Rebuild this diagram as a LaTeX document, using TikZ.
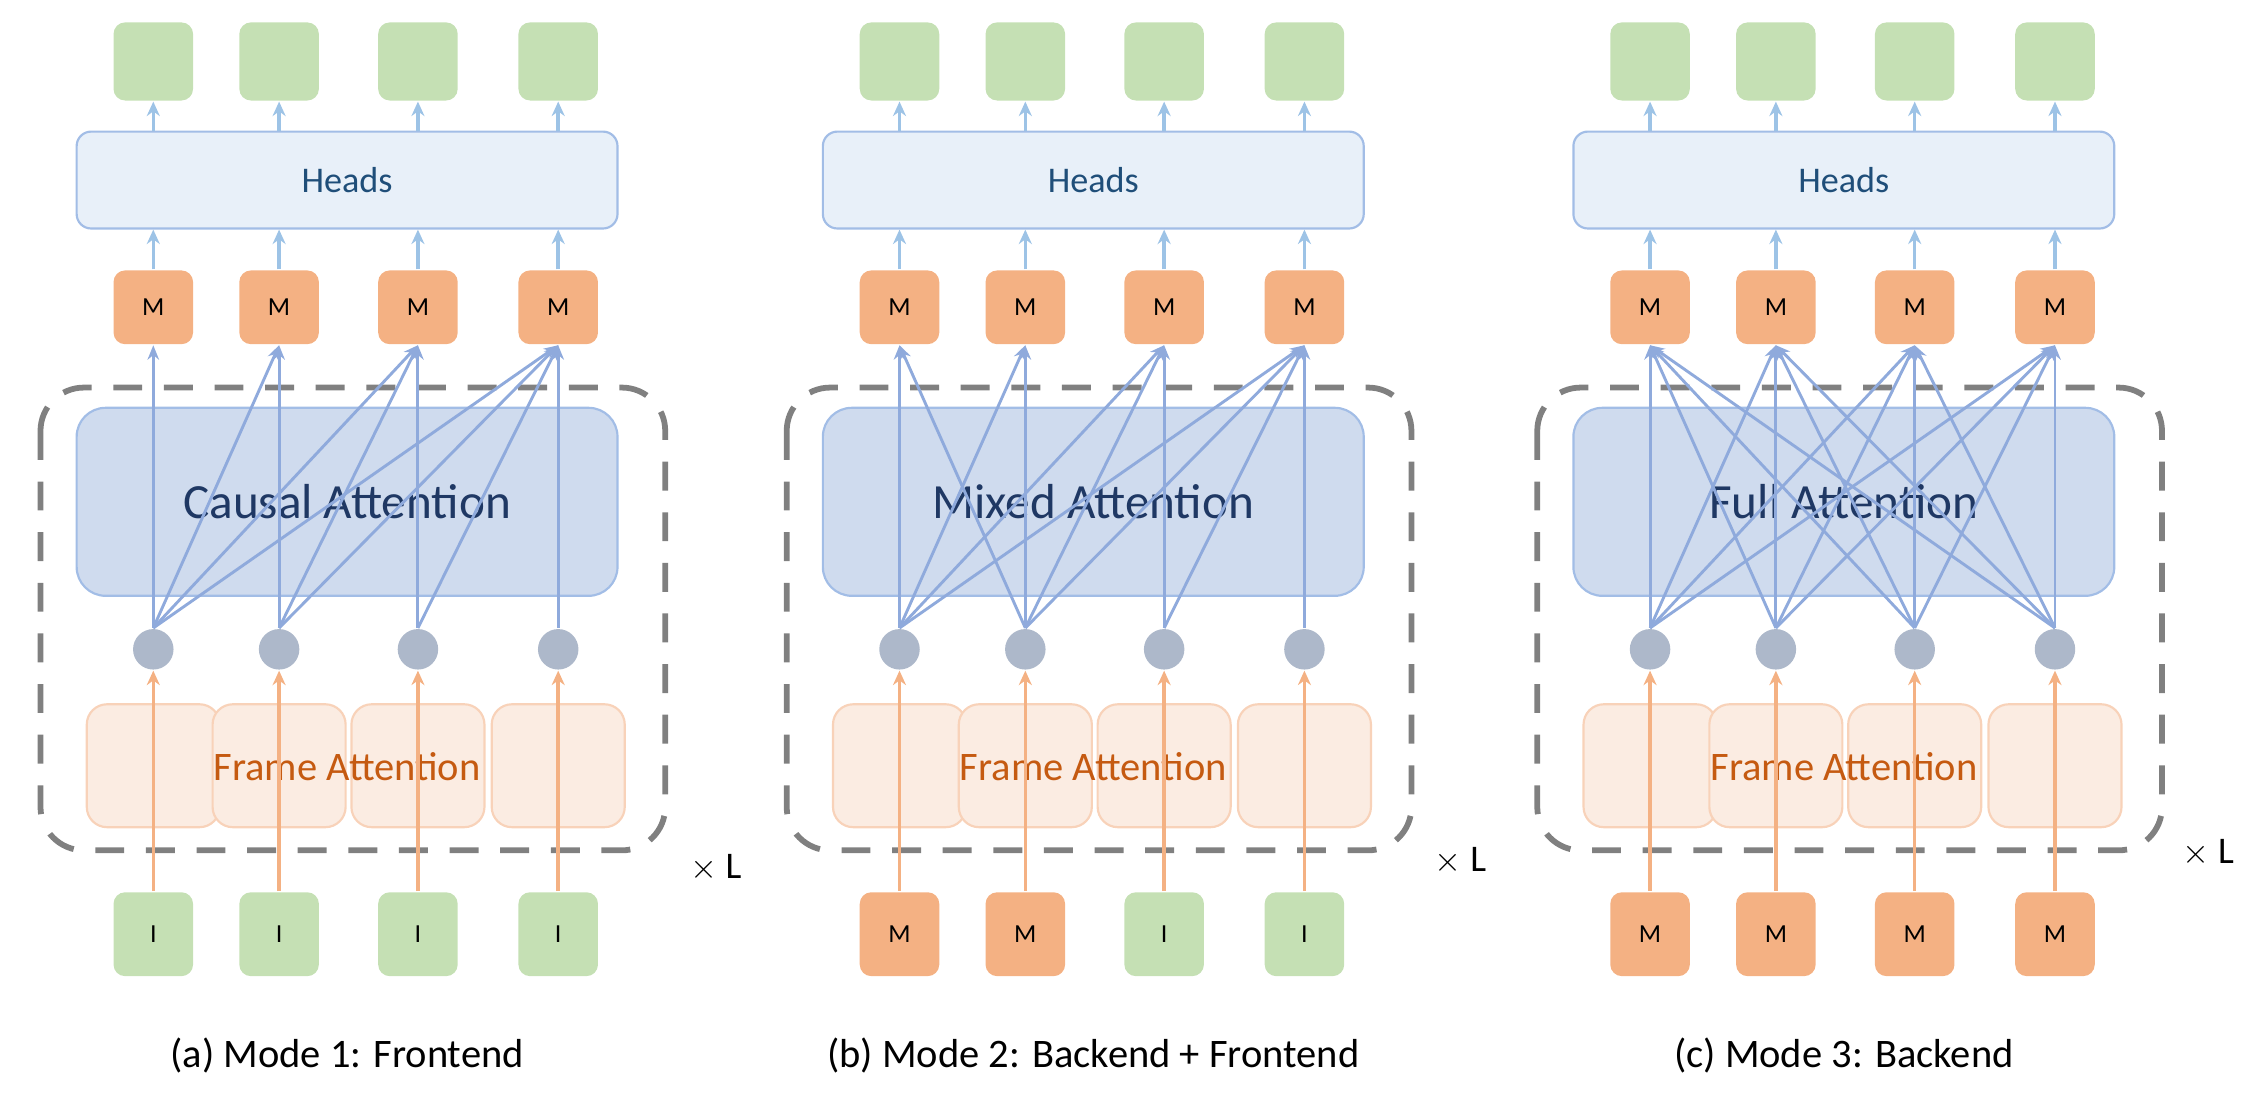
\documentclass[tikz,border=0pt]{standalone}
\usepackage{fontspec}
\setmainfont{Carlito}
\usetikzlibrary{arrows.meta}

\definecolor{tokgreen}{RGB}{197,224,180}
\definecolor{tokorange}{RGB}{244,177,131}
\definecolor{headfill}{RGB}{232,240,249}
\definecolor{headline}{RGB}{162,189,230}
\definecolor{headtext}{RGB}{31,78,121}
\definecolor{attnfill}{RGB}{207,219,238}
\definecolor{attntext}{RGB}{31,56,100}
\definecolor{framefill}{RGB}{251,236,226}
\definecolor{frameline}{RGB}{248,210,185}
\definecolor{frametext}{RGB}{197,90,17}
\definecolor{dotfill}{RGB}{173,184,202}
\definecolor{linkblue}{RGB}{143,170,220}
\definecolor{uplink}{RGB}{157,195,230}

\tikzset{every picture/.style={line width=0.75pt}}
\tikzset{
  token/.style={rounded corners=4pt, minimum width=27.5pt, minimum height=27pt, inner sep=0pt, font=\fontsize{9}{9}\selectfont},
  outtok/.style={token, fill=tokgreen},
  mtok/.style={token, fill=tokorange, minimum height=25.5pt},
  itok/.style={token, fill=tokgreen, minimum height=29pt},
  intokM/.style={token, fill=tokorange, minimum height=29pt},
  headbox/.style={draw=headline, fill=headfill, rounded corners=5pt, minimum width=187pt, minimum height=33.5pt, text=headtext, font=\fontsize{12.5}{12.5}\selectfont},
  attnbox/.style={draw=headline, fill=attnfill, rounded corners=10pt, minimum width=187pt, minimum height=65pt, text=attntext, font=\fontsize{17}{17}\selectfont},
  framebox/.style={draw=frameline, fill=framefill, rounded corners=7pt, minimum width=46pt, minimum height=42.5pt},
  dot/.style={circle, fill=dotfill, minimum size=14pt, inner sep=0pt},
  link/.style={draw=linkblue, line width=1pt, -{Stealth[length=5pt,width=4pt]}},
  uparrow/.style={draw=uplink, line width=1.2pt, -{Stealth[length=5pt,width=4.5pt]}},
  inarrow/.style={draw=tokorange, line width=1.2pt, -{Stealth[length=5pt,width=4.5pt]}},
  layerbox/.style={draw=black!50, line width=2pt, dash pattern=on 10pt off 7.5pt, rounded corners=15pt}
}

\begin{document}
\begin{tikzpicture}[x=0.5pt,y=-0.5pt]
\useasboundingbox (0,0) rectangle (1560,759);

\foreach \p/\off/\name/\ins/\links/\capt/\lx/\ly in {
  a/0/Causal/{I,I,I,I}/{1/1,1/2,1/3,1/4,2/2,2/3,2/4,3/3,3/4,4/4}/{(a) Mode 1: Frontend}/495/600,
  b/516/Mixed/{M,M,I,I}/{1/1,1/2,1/3,1/4,2/1,2/2,2/3,2/4,3/3,3/4,4/4}/{(b) Mode 2: Backend + Frontend}/1010/595,
  c/1035/Full/{M,M,M,M}/{1/1,1/2,1/3,1/4,2/1,2/2,2/3,2/4,3/1,3/2,3/3,3/4,4/1,4/2,4/3,4/4}/{(c) Mode 3: Backend}/1527/590}{
\begin{scope}[xshift=\off*0.5pt]
% layer frame
\draw [layerbox] (28,268) rectangle (460,588);
% frame attention blocks
\foreach \i/\x in {1/106,2/193,3/289,4/386}
  \node [framebox] (\p-fr\i) at (\x,529.5) {};
\node [text=frametext, font=\fontsize{14}{14}\selectfont] (\p-frtext) at (240,530) {Frame Attention};
% attention block
\node [attnbox] (\p-attn) at (240,347) {\name\ Attention};
% heads
\node [headbox] (\p-heads) at (240,124.5) {Heads};
% tokens
\foreach \i/\x in {1/106,2/193,3/289,4/386}{
  \node [outtok] (\p-out\i) at (\x,42.5) {};
  \node [mtok] (\p-m\i) at (\x,212.5) {M};
  \node [dot] (\p-d\i) at (\x,449) {};
  \draw [uparrow] (\p-m\i.north) -- (\p-m\i.north |- \p-heads.south);
  \draw [uparrow] (\p-heads.north -| \p-out\i) -- (\p-out\i.south);
}
\foreach \t [count=\i] in \ins{
  \pgfmathsetmacro{\x}{{106,193,289,386}[\i-1]}
  \if I\t \def\sty{itok}\else\def\sty{intokM}\fi
  \node [\sty] (\p-in\i) at (\x,646) {\t};
  \draw [inarrow] (\p-in\i.north) -- (\p-d\i.south);
}
% attention links
\foreach \s/\e in \links
  \draw [link] (\p-d\s.north) -- (\p-m\e.south);
\node [font=\fontsize{14}{14}\selectfont] (\p-cap) at (240,730) {\capt};
\end{scope}
\node [font=\fontsize{13}{13}\selectfont] (\p-times) at (\lx,\ly) {$\times$ L};
}
\end{tikzpicture}
\end{document}
